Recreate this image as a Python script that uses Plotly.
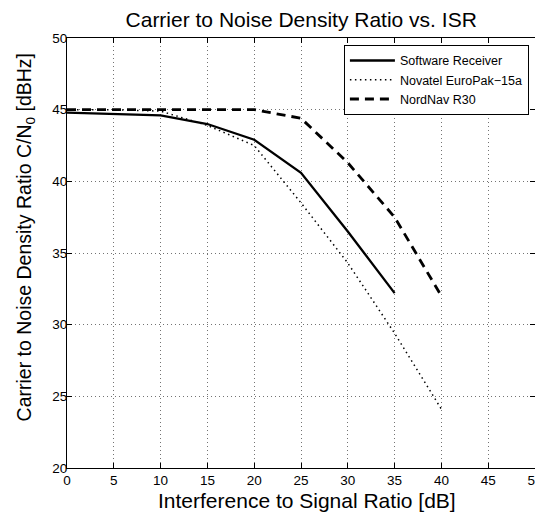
import plotly.graph_objects as go

isr = [0, 5, 10, 15, 20, 25, 30, 35, 40]
software = [44.8, 44.7, 44.6, 44.0, 42.9, 40.6, 36.5, 32.2]
novatel = [45.0, 45.0, 44.9, 43.9, 42.5, 38.5, 34.3, 29.4, 24.1]
nordnav = [45.0, 45.0, 45.0, 45.0, 45.0, 44.4, 41.3, 37.5, 32.0]

title_text = "Carrier to Noise Density Ratio vs. ISR"
x_title = "Interference to Signal Ratio [dB]"
y_title = "Carrier to Noise Density Ratio C/N<sub>0</sub> [dBHz]"

fig = go.Figure()
fig.add_trace(go.Scatter(x=isr[:len(software)], y=software, mode="lines", name="Software Receiver",
                         line=dict(color="black", width=2.3, dash="solid")))
fig.add_trace(go.Scatter(x=isr, y=novatel, mode="lines", name="Novatel EuroPak\u221215a",
                         line=dict(color="black", width=1.5, dash="1.5px,3.5px")))
fig.add_trace(go.Scatter(x=isr, y=nordnav, mode="lines", name="NordNav R30",
                         line=dict(color="black", width=2.8, dash="9px,6px")))

font = "Liberation Sans, Arial, Helvetica, sans-serif"
axis_common = dict(showline=True, linecolor="black", linewidth=1, mirror="ticks",
                   ticks="inside", ticklen=5, tickcolor="black", automargin=False,
                   showgrid=True, gridcolor="rgba(0,0,0,0.55)", griddash="1px,3px", gridwidth=1,
                   zeroline=False, tickfont=dict(size=13.5, color="black", family=font))

# the page body has an 8px margin, so the figure is sized/offset to compensate
fig.update_layout(
    width=535, height=507,
    paper_bgcolor="white", plot_bgcolor="white",
    margin=dict(l=59, r=8, t=30, b=47, autoexpand=False),
    font=dict(family=font, color="black"),
    title=dict(text=title_text, x=0.548, xanchor="center",
               y=0.978, yanchor="middle", font=dict(size=21, color="black", family=font)),
    xaxis=dict(range=[0, 50], tickvals=list(range(0, 55, 5)),
               ticklabelstandoff=0, **axis_common),
    yaxis=dict(range=[20, 50], tickvals=list(range(20, 55, 5)),
               ticklabelstandoff=-4, **axis_common),
    legend=dict(x=0.987, y=0.984, xanchor="right", yanchor="top",
                bgcolor="white", bordercolor="black", borderwidth=1,
                font=dict(size=12.5, color="black", family=font),
                tracegroupgap=0, itemwidth=45),
    showlegend=True,
    annotations=[
        dict(text=x_title, xref="paper", yref="paper", x=0.513, y=-0.0767,
             xanchor="center", yanchor="middle", showarrow=False,
             font=dict(size=21, color="black", family=font)),
        dict(text=y_title, xref="paper", yref="paper", x=-0.089, y=0.537,
             xanchor="center", yanchor="middle", showarrow=False, textangle=-90,
             font=dict(size=19.5, color="black", family=font)),
    ],
)

fig.write_html("out.html")
